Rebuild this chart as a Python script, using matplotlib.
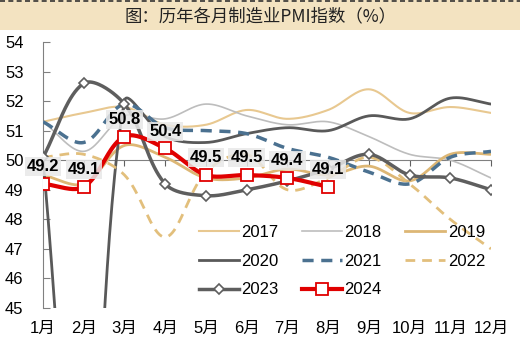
import numpy as np
import matplotlib
matplotlib.use("Agg")
import matplotlib.pyplot as plt
from matplotlib.patches import Rectangle
from matplotlib.lines import Line2D

plt.rcParams['font.family'] = ['Liberation Sans', 'Noto Sans CJK SC', 'DejaVu Sans']

months = ["1月", "2月", "3月", "4月", "5月", "6月", "7月", "8月", "9月", "10月", "11月", "12月"]
pmi_2017 = [51.3, 51.6, 51.8, 51.2, 51.2, 51.7, 51.4, 51.7, 52.4, 51.6, 51.8, 51.6]
pmi_2018 = [51.3, 50.3, 51.5, 51.4, 51.9, 51.5, 51.2, 51.3, 50.8, 50.2, 50.0, 49.4]
pmi_2019 = [49.5, 49.2, 50.5, 50.1, 49.4, 49.4, 49.7, 49.5, 49.8, 49.3, 50.2, 50.2]
pmi_2020 = [50.0, 35.7, 52.0, 50.8, 50.6, 50.9, 51.1, 51.0, 51.5, 51.4, 52.1, 51.9]
pmi_2021 = [51.3, 50.6, 51.9, 51.1, 51.0, 50.9, 50.4, 50.1, 49.6, 49.2, 50.1, 50.3]
pmi_2022 = [50.1, 50.2, 49.5, 47.4, 49.6, 50.2, 49.0, 49.4, 50.1, 49.2, 48.0, 47.0]
pmi_2023 = [50.1, 52.6, 51.9, 49.2, 48.8, 49.0, 49.3, 49.7, 50.2, 49.5, 49.4, 49.0]
pmi_2024 = [49.2, 49.1, 50.8, 50.4, 49.5, 49.5, 49.4, 49.1]
y_ticks = [45, 46, 47, 48, 49, 50, 51, 52, 53, 54]
title = "图：历年各月制造业PMI指数（%）"

W, H = 520, 340
left, right, top, bottom = 43, 491, 42, 308
XS = (right - left) / 11.0      # pixels per month
YS = (bottom - top) / 9.0       # pixels per index point


def smooth(vals, n=40):
    """Excel-like smoothed line: cubic Bezier with distance-weighted tangents."""
    y = np.asarray(vals, float)
    x = np.arange(len(y), dtype=float)
    P = np.column_stack([x * XS, y * YS])   # work in pixel-proportional space
    m = len(P)
    cin, cout = [], []
    for i in range(m):
        a = P[i - 1] if i > 0 else P[i]
        b = P[i + 1] if i < m - 1 else P[i]
        d1 = np.linalg.norm(P[i] - a)
        d2 = np.linalg.norm(b - P[i])
        tot = d1 + d2
        tan = b - a
        if tot == 0:
            cin.append(P[i]); cout.append(P[i]); continue
        cin.append(P[i] - tan * (d1 / tot) / 3.0)
        cout.append(P[i] + tan * (d2 / tot) / 3.0)
    t = np.linspace(0, 1, n)[:, None]
    out = []
    for i in range(m - 1):
        p1, c1, c2, p2 = P[i], cout[i], cin[i + 1], P[i + 1]
        seg = ((1 - t) ** 3) * p1 + 3 * ((1 - t) ** 2) * t * c1 + 3 * (1 - t) * t ** 2 * c2 + t ** 3 * p2
        out.append(seg if i == 0 else seg[1:])
    S = np.vstack(out)
    return S[:, 0] / XS, S[:, 1] / YS


fig = plt.figure(figsize=(W / 100, H / 100), dpi=100)
fig.patch.set_facecolor('white')

# title banner
fig.patches.append(Rectangle((0, 1 - 30 / H), 1, 30 / H, transform=fig.transFigure,
                             facecolor='#F3E3C1', edgecolor='none', zorder=0))
fig.lines.append(Line2D([0, 1], [1 - 0.8 / H, 1 - 0.8 / H], transform=fig.transFigure,
                        color='#333333', lw=1.2, ls=(0, (3, 2))))
fig.text(0.5, 1 - 16 / H, title, ha='center', va='center', fontsize=12.5,
         color='#222222', family=['Noto Sans CJK SC', 'DejaVu Sans'])

ax = fig.add_axes([left / W, 1 - bottom / H, (right - left) / W, (bottom - top) / H])
ax.set_xlim(0, 11)
ax.set_ylim(45, 54)
ax.patch.set_alpha(0)

styles = [
    (pmi_2017, "2017", dict(color='#E8C890', lw=1.5)),
    (pmi_2018, "2018", dict(color='#BDBDBD', lw=1.2)),
    (pmi_2019, "2019", dict(color='#DDB775', lw=2.0)),
    (pmi_2020, "2020", dict(color='#595959', lw=2.0)),
    (pmi_2021, "2021", dict(color='#4B7190', lw=2.5, ls=(0, (3.2, 2.2)))),
    (pmi_2022, "2022", dict(color='#E2BF7C', lw=2.0, ls=(0, (3.5, 2.5)))),
]
hmap = {}
for i, (vals, lab, st) in enumerate(styles):
    sx, sy = smooth(vals)
    ax.plot(sx, sy, zorder=2 + i, **st)
    hmap[lab] = Line2D([], [], label=lab, **st)

# 2023
sx, sy = smooth(pmi_2023)
ax.plot(sx, sy, color='#5E5E5E', lw=2.5, zorder=9)
ax.plot(np.arange(len(pmi_2023)), pmi_2023, ls='none', marker='D', ms=5,
        mfc='white', mec='#5E5E5E', mew=1.2, zorder=10)
hmap['2023'] = Line2D([], [], color='#5E5E5E', lw=2.5, marker='D', ms=5,
                      mfc='white', mec='#5E5E5E', mew=1.2, label='2023')

# 2024
sx, sy = smooth(pmi_2024)
ax.plot(sx, sy, color='#E00000', lw=3, zorder=11)
ax.plot(np.arange(len(pmi_2024)), pmi_2024, ls='none', marker='s', ms=8,
        mfc='white', mec='#E00000', mew=1.3, zorder=12)
hmap['2024'] = Line2D([], [], color='#E00000', lw=3, marker='s', ms=8,
                      mfc='white', mec='#E00000', mew=1.3, label='2024')

for i, v in enumerate(pmi_2024):
    ax.annotate(f"{v:.1f}", (i, v), xytext=(0, 12.5), textcoords='offset points',
                ha='center', va='center', fontsize=12, fontweight='bold', color='black',
                zorder=13,
                bbox=dict(boxstyle='square,pad=0.12', facecolor='#E8E8E8',
                          edgecolor='none', alpha=0.85))

# axes styling
for s in ['top', 'right']:
    ax.spines[s].set_visible(False)
ax.spines['left'].set_color('#808080')
ax.spines['bottom'].set_color('#808080')
ax.spines['bottom'].set_position(('data', 50))
ax.set_yticks(y_ticks)
ax.set_yticklabels([str(v) for v in y_ticks])
ax.tick_params(axis='y', direction='in', length=5, color='#808080', pad=14,
               labelsize=12, labelcolor='black')
ax.set_xticks(np.arange(len(months)))
ax.tick_params(axis='x', direction='out', length=4, color='#606060', labelbottom=False)

sec = ax.secondary_xaxis(0)
sec.set_xticks(np.arange(len(months)))
sec.set_xticklabels(months)
sec.spines['bottom'].set_visible(False)
sec.tick_params(axis='x', length=0, pad=9, labelsize=12, labelcolor='black')

order = ['2017', '2020', '2023', '2018', '2021', '2024', '2019', '2022']
leg = ax.legend(handles=[hmap[k] for k in order], ncol=3, loc='upper left',
                bbox_to_anchor=(199 / W, 1 - 225 / H), bbox_transform=fig.transFigure,
                frameon=False, fontsize=12, handlelength=2.4, handletextpad=0.15,
                columnspacing=1.4, labelspacing=0.82, borderpad=0, borderaxespad=0)
leg.set_zorder(20)

fig.savefig('out.png', dpi=100)
